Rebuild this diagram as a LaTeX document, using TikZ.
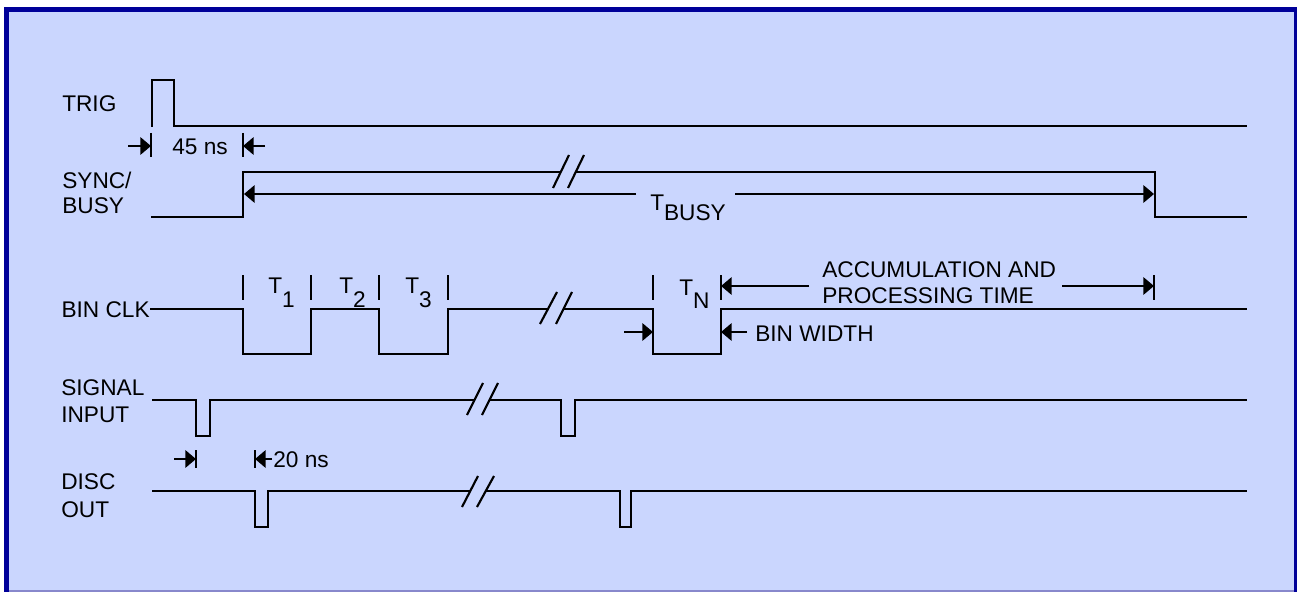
\documentclass[tikz,border=0pt]{standalone}
\usepackage{fontspec}
\setmainfont{Liberation Sans}
\usetikzlibrary{arrows.meta}
\definecolor{bgfill}{RGB}{202,214,254}
\definecolor{frameblue}{RGB}{0,0,153}
\definecolor{framelite}{RGB}{136,136,204}
\begin{document}
\begin{tikzpicture}[x=0.75pt,y=-0.75pt,
  sig/.style={line width=1.8pt, line join=miter, line cap=butt},
  brk/.style={line width=1.6pt},
  dim/.style={line width=1.8pt, -{Triangle[length=8pt,width=13pt]}},
  tickmark/.style={line width=1.8pt},
  lbl/.style={inner sep=0pt, anchor=base west, font=\fontsize{17}{20}\selectfont}]
\useasboundingbox (0,0) rectangle (1297,592);
% frame
\fill[white] (0,0) rectangle (1297,592);
\fill[bgfill] (4,7) rectangle (1297,592);
\fill[frameblue] (4,7) rectangle (1297,12);
\fill[frameblue] (4,7) rectangle (9,592);
\fill[frameblue] (1294,7) rectangle (1297,592);
\fill[framelite] (9,590) rectangle (1294,592);

% labels
\node[lbl] (trig) at (62,112) {TRIG};
\node[lbl] (sync) at (62,188) {SYNC/};
\node[lbl] (busy) at (62,214) {BUSY};
\node[lbl, anchor=base east] (binclk) at (150,317) {BIN CLK};
\node[lbl] (signal) at (61,395) {SIGNAL};
\node[lbl] (input) at (61,422) {INPUT};
\node[lbl] (disc) at (61,489) {DISC};
\node[lbl] (out) at (61,517) {OUT};

% TRIG
\draw[sig] (152,127) -- (152,80) -- (174,80) -- (174,126) -- (1247,126);
% 45 ns
\draw[dim] (128,146) -- (151,146);
\draw[tickmark] (151,133) -- (151,157);
\draw[tickmark] (243,133) -- (243,157);
\draw[dim] (265,146) -- (243,146);
\node[lbl] (t45) at (172,155) {45 ns};

% SYNC/BUSY
\draw[sig] (151,217) -- (243,217) -- (243,172) -- (560.5,172);
\draw[sig] (576,172) -- (1155,172) -- (1155,217) -- (1247,217);
\draw[brk] (553,188) -- (569,155);
\draw[brk] (568,188) -- (584,155);
\draw[dim] (636,194) -- (244,194);
\draw[dim] (735,194) -- (1154,194);
\node[lbl] (tbusy) at (650,210) {T\lower7.5pt\hbox{BUSY}};

% BIN CLK
\draw[sig] (150,309) -- (243,309) -- (243,354) -- (311,354) -- (311,309)
  -- (379,309) -- (379,354) -- (448,354) -- (448,309) -- (548.5,309);
\draw[sig] (564,309) -- (653,309) -- (653,354) -- (721,354) -- (721,309) -- (1247,309);
\draw[brk] (540,324) -- (557,292);
\draw[brk] (556,324) -- (572,292);
\foreach \x in {243,311,379,448,653,721,1154}
  \draw[tickmark] (\x,275) -- (\x,300);
\node[lbl] (t1) at (268,293) {T\lower10.5pt\hbox{1}};
\node[lbl] (t2) at (339,293) {T\lower10.5pt\hbox{2}};
\node[lbl] (t3) at (405,293) {T\lower10.5pt\hbox{3}};
\node[lbl] (tn) at (679,295) {T\lower10pt\hbox{N}};
\draw[dim] (809,286) -- (721,286);
\draw[dim] (1062,286) -- (1154,286);
\node[lbl] (acc1) at (822,277) {ACCUMULATION AND};
\node[lbl] (acc2) at (822,303) {PROCESSING TIME};
\draw[dim] (624,332) -- (653,332);
\draw[dim] (747,332) -- (721,332);
\node[lbl] (binw) at (755,341) {BIN WIDTH};

% SIGNAL INPUT
\draw[sig] (152,400) -- (196,400) -- (196,436) -- (210,436) -- (210,400) -- (475,400);
\draw[sig] (490,400) -- (561,400) -- (561,436) -- (575,436) -- (575,400) -- (1247,400);
\draw[brk] (467,415) -- (483,383);
\draw[brk] (482,415) -- (498,383);

% 20 ns
\draw[dim] (174,459) -- (196,459);
\draw[tickmark] (196,450) -- (196,468);
\draw[tickmark] (255,450) -- (255,468);
\draw[dim] (272,459) -- (255,459);
\node[lbl] (t20) at (273,467) {20 ns};

% DISC OUT
\draw[sig] (152,491) -- (255,491) -- (255,527) -- (268,527) -- (268,491) -- (470,491);
\draw[sig] (485.5,491) -- (620,491) -- (620,527) -- (631,527) -- (631,491) -- (1247,491);
\draw[brk] (462,507) -- (478,476);
\draw[brk] (477,507) -- (494,476);
\end{tikzpicture}
\end{document}
